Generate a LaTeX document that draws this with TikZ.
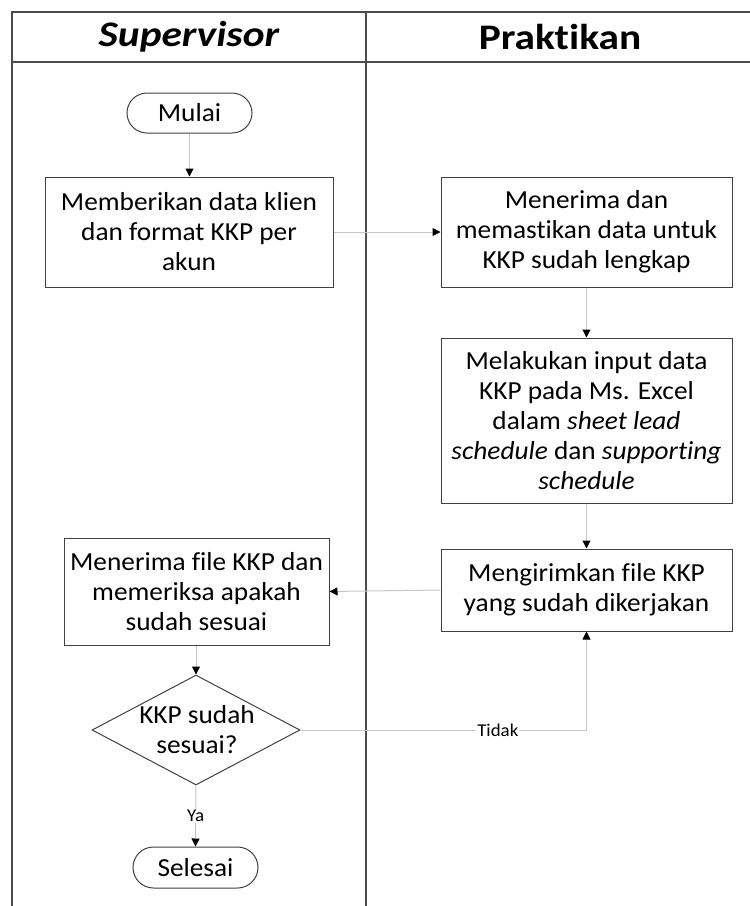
\documentclass[tikz,border=0pt]{standalone}
\usepackage{fontspec}
\setmainfont{Carlito}[Ligatures=NoCommon,FakeStretch=1.05]
\newfontfamily\headfont{Carlito}[Ligatures=NoCommon,FakeStretch=1.15]
\usetikzlibrary{arrows.meta,shapes.geometric,shapes.misc}
\begin{document}
\begin{tikzpicture}[x=1pt,y=-1pt,
  frame/.style={draw=black!70,line width=1.2pt},
  bodyfont/.style={font=\fontsize{26}{30}\selectfont},
  procbox/.style={draw=black!75,line width=1pt,rectangle,align=center,inner sep=0pt,bodyfont},
  termbox/.style={draw=black!75,line width=1pt,rounded rectangle,align=center,inner sep=0pt,bodyfont},
  decbox/.style={draw=black!75,line width=1pt,diamond,inner sep=0pt},
  conn/.style={draw=black!22,line width=1pt,-{Triangle[length=8pt,width=8pt,color=black]}},
  lbl/.style={fill=white,inner sep=1pt,font=\fontsize{18}{20}\selectfont},
  head/.style={font=\headfont\fontsize{36}{40}\selectfont\bfseries}
]
\useasboundingbox (0,0) rectangle (750,906);
% swimlane frame
\draw[frame] (12,906) -- (12,12) -- (750,12);
\draw[frame] (12,62) -- (750,62);
\draw[frame] (366,12) -- (366,906);
\node[head] (h1) at (189,37) {\itshape Supervisor};
\node[head] (h2) at (560,37) {Praktikan};

\node[termbox,minimum width=125pt,minimum height=40pt] (mulai) at (189.5,113) {Mulai};
\node[procbox,minimum width=288pt,minimum height=110pt] (b1) at (189,232)
  {Memberikan data klien\\dan format KKP per\\akun};
\node[procbox,minimum width=291pt,minimum height=110pt] (b2) at (586.5,232)
  {Menerima dan\\memastikan data untuk\\KKP sudah lengkap};
\node[procbox,minimum width=291pt,minimum height=165pt] (b3) at (586.5,420.5)
  {Melakukan input data\\KKP pada Ms. Excel\\dalam \textit{sheet lead}\\\textit{schedule} dan \textit{supporting}\\\textit{schedule}};
\node[procbox,minimum width=291pt,minimum height=82pt] (b4) at (586.5,590)
  {Mengirimkan file KKP\\yang sudah dikerjakan};
\node[procbox,minimum width=265pt,minimum height=107pt] (b5) at (196.5,591.5)
  {Menerima file KKP dan\\memeriksa apakah\\sudah sesuai};
\node[decbox,minimum width=208pt,minimum height=110pt,aspect=1.9] (dec) at (196,730) {};
\node[bodyfont,align=center] (dectxt) at (197,730) {KKP sudah\\sesuai?};
\node[termbox,minimum width=125pt,minimum height=41pt] (selesai) at (195.5,867.5) {Selesai};

\draw[conn] (mulai.south) -- (b1.north -| mulai.south);
\draw[conn] (b1.east) -- (b2.west);
\draw[conn] (b2.south) -- (b3.north);
\draw[conn] (b3.south) -- (b4.north);
\draw[conn] (b4.west) -- (b5.east);
\draw[conn] (b5.south -| dec.north) -- (dec.north);
\draw[conn] (dec.south) -- node[lbl] {Ya} (selesai.north);
\draw[conn] (dec.east) -| node[lbl,pos=0.345] {Tidak} (b4.south);
\end{tikzpicture}
\end{document}
